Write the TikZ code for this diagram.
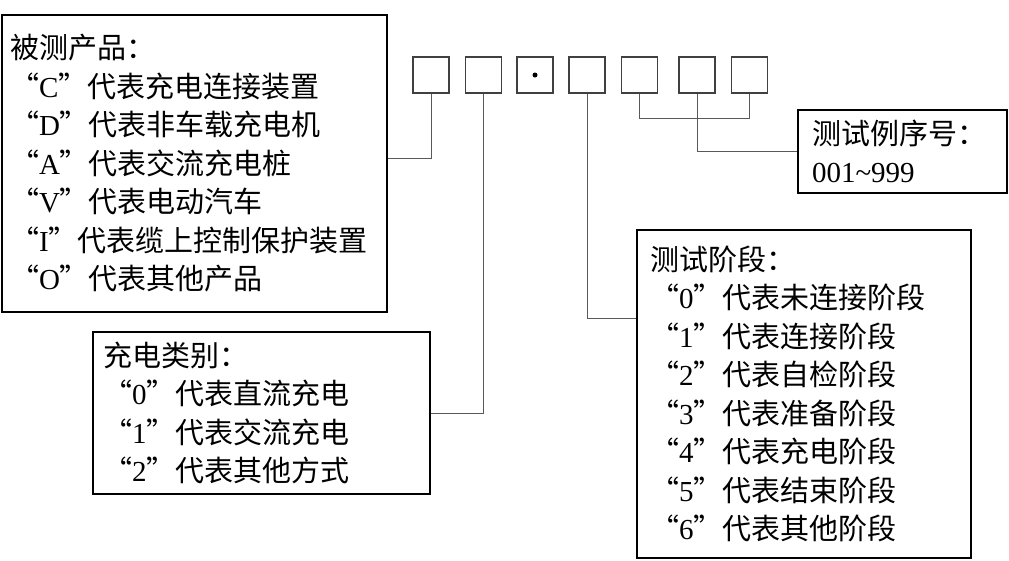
\documentclass[tikz,border=0pt]{standalone}
\usepackage{fontspec}
\setmainfont{Liberation Serif}
\newfontfamily\cjk{Noto Sans CJK SC}
\newcommand\dm[1]{\makebox[1em][r]{“}{\rmfamily #1}\makebox[1em][l]{”}}
\begin{document}
\begin{tikzpicture}[x=1pt, y=-1pt,
    infobox/.style={draw, line width=1.6pt, align=left, inner xsep=10pt, inner ysep=0pt,
        font=\cjk\fontsize{29}{38.5}\selectfont},
    digitbox/.style={draw=black!75, line width=1.1pt, minimum size=36pt, inner sep=0pt},
    link/.style={draw=black!65, line width=1pt}]
    \useasboundingbox (0,0) rectangle (1009,560);
    % code cells
    \foreach \index/\xc in {1/431,2/483.5,3/535,4/587,5/639.5,6/697,7/749.5}
        \node[digitbox] (cell-\index) at (\xc,75) {};
    \fill (cell-3) circle (2.5pt);
    % explanation boxes
    \node[infobox, inner xsep=8pt, text width=369pt, minimum height=297pt] (product) at (194.5,163.5)
        {被测产品：\\ \dm{C}代表充电连接装置\\ \dm{D}代表非车载充电机\\ \dm{A}代表交流充电桩\\
         \dm{V}代表电动汽车\\ \dm{I}代表缆上控制保护装置\\ \dm{O}代表其他产品};
    \node[infobox, text width=317pt, minimum height=162pt] (charge) at (261.5,413)
        {充电类别：\\ \dm{0}代表直流充电\\ \dm{1}代表交流充电\\ \dm{2}代表其他方式};
    \node[infobox, inner xsep=13pt, text width=308pt, minimum height=328pt] (stage) at (804,394)
        {测试阶段：\\ \dm{0}代表未连接阶段\\ \dm{1}代表连接阶段\\ \dm{2}代表自检阶段\\
         \dm{3}代表准备阶段\\ \dm{4}代表充电阶段\\ \dm{5}代表结束阶段\\ \dm{6}代表其他阶段};
    \node[infobox, inner xsep=14pt, text width=181pt, minimum height=83pt] (number) at (902.5,151.5)
        {测试例序号：\\ {\rmfamily 001\textasciitilde 999}};
    % connectors
    \coordinate (product-turn) at (0,158);
    \coordinate (stage-turn) at (0,318);
    \draw[link] (cell-1.south) |- (product.east |- product-turn);
    \draw[link] (cell-2.south) |- (charge.east);
    \draw[link] (cell-4.south) |- (stage.west |- stage-turn);
    \draw[link] (cell-5.south) -- ++(0,25) -| (cell-7.south);
    \draw[link] (cell-6.south) |- (number.west);
\end{tikzpicture}
\end{document}
